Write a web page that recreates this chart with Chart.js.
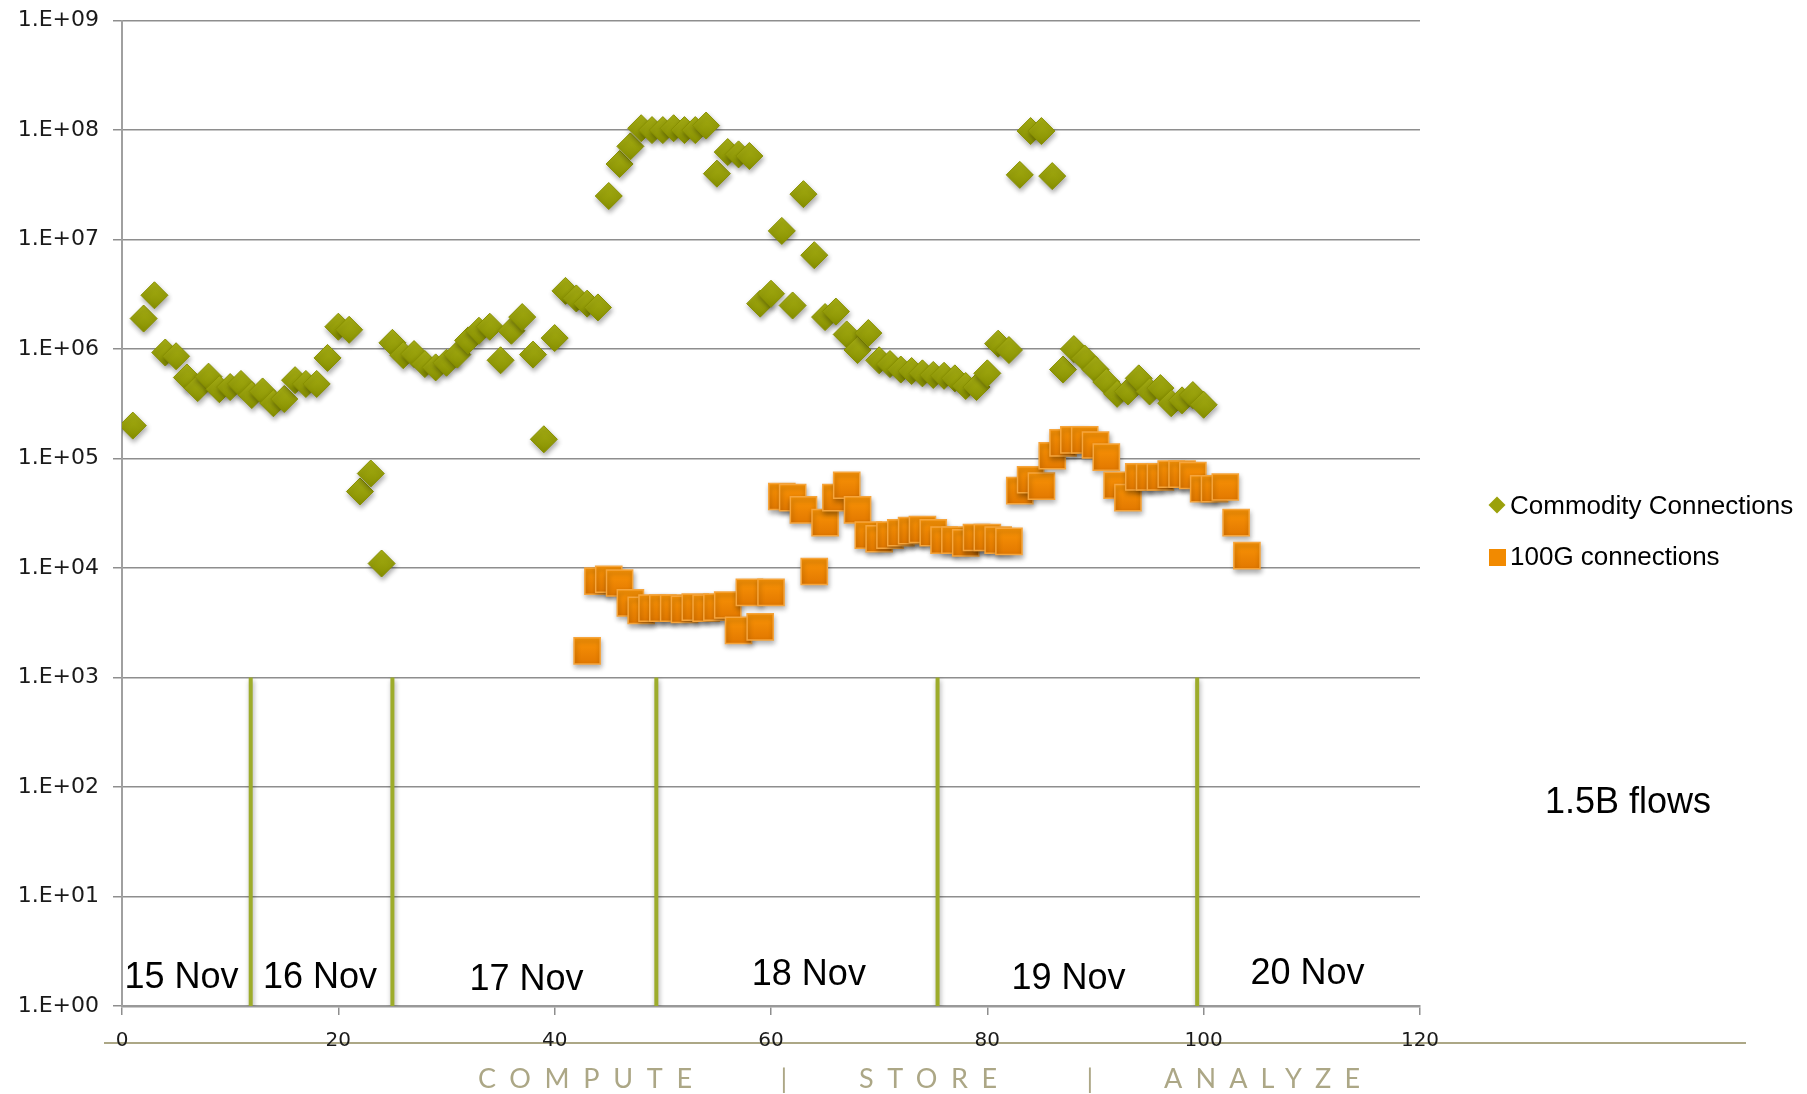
<!DOCTYPE html>
<html>
<head>
<meta charset="utf-8">
<title>Commodity vs 100G connections</title>
<script src="https://cdn.jsdelivr.net/npm/chart.js@4.4.1/dist/chart.umd.min.js"></script>
<style>
  html, body { margin: 0; padding: 0; background: #ffffff; }
  #wrap { width: 1807px; height: 1094px; }
</style>
</head>
<body>
<div id="wrap"><canvas id="flowChart" width="1807" height="1094"></canvas></div>
<script>
/* DATA */
const commodityX = [
    1, 2, 3, 4, 5, 6, 7, 8, 9, 10,
    11, 12, 13, 14, 15, 16, 17, 18, 19, 20,
    21, 22, 23, 24, 25, 26, 27, 28, 29, 30,
    31, 32, 33, 34, 35, 36, 37, 38, 39, 40,
    41, 42, 43, 44, 45, 46, 47, 48, 49, 50,
    51, 52, 53, 54, 55, 56, 57, 58, 59, 60,
    61, 62, 63, 64, 65, 66, 67, 68, 69, 70,
    71, 72, 73, 74, 75, 76, 77, 78, 79, 80,
    81, 82, 83, 84, 85, 86, 87, 88, 89, 90,
    91, 92, 93, 94, 95, 96, 97, 98, 99, 100
];
const commodityValues = [
    2.0e5, 1.9e6, 3.1e6, 9.3e5, 8.6e5, 5.5e5, 4.4e5, 5.6e5, 4.3e5, 4.5e5,
    4.8e5, 3.8e5, 4.1e5, 3.2e5, 3.5e5, 5.2e5, 4.8e5, 4.8e5, 8.3e5, 1.6e6,
    1.5e6, 5.0e4, 7.3e4, 1.1e4, 1.14e6, 8.8e5, 9.0e5, 7.3e5, 6.8e5, 7.5e5,
    8.9e5, 1.2e6, 1.47e6, 1.6e6, 7.9e5, 1.47e6, 1.96e6, 8.9e5, 1.5e5, 1.26e6,
    3.4e6, 2.9e6, 2.6e6, 2.4e6, 2.5e7, 4.9e7, 7.1e7, 1.04e8, 1.0e8, 1.0e8,
    1.04e8, 1.0e8, 1.0e8, 1.1e8, 4.0e7, 6.3e7, 6.0e7, 5.8e7, 2.6e6, 3.2e6,
    1.2e7, 2.5e6, 2.6e7, 7.2e6, 1.96e6, 2.2e6, 1.36e6, 9.8e5, 1.4e6, 7.9e5,
    7.3e5, 6.5e5, 6.3e5, 6.0e5, 5.8e5, 5.7e5, 5.4e5, 4.6e5, 4.5e5, 6.0e5,
    1.12e6, 9.8e5, 3.9e7, 9.8e7, 9.8e7, 3.8e7, 6.5e5, 1.0e6, 8.2e5, 6.5e5,
    5.0e5, 3.9e5, 4.1e5, 5.4e5, 4.1e5, 4.4e5, 3.2e5, 3.4e5, 3.8e5, 3.1e5
];

const hundredGX = [
    43, 44, 45, 46, 47, 48, 49, 50, 51, 52,
    53, 54, 55, 56, 57, 58, 59, 60, 61, 62,
    63, 64, 65, 66, 67, 68, 69, 70, 71, 72,
    73, 74, 75, 76, 77, 78, 79, 80, 81, 82,
    83, 84, 85, 86, 87, 88, 89, 90, 91, 92,
    93, 94, 95, 96, 97, 98, 99, 100, 101, 102,
    103, 104
];
const hundredGValues = [
    1.75e3, 7.6e3, 7.9e3, 7.3e3, 4.8e3, 4.1e3, 4.3e3, 4.3e3, 4.3e3, 4.2e3,
    4.4e3, 4.3e3, 4.4e3, 4.6e3, 2.7e3, 6.0e3, 2.9e3, 6.0e3, 4.5e4, 4.4e4,
    3.4e4, 9.3e3, 2.6e4, 4.4e4, 5.7e4, 3.4e4, 2.0e4, 1.85e4, 2.0e4, 2.1e4,
    2.2e4, 2.25e4, 2.1e4, 1.8e4, 1.8e4, 1.7e4, 1.9e4, 1.9e4, 1.8e4, 1.75e4,
    5.1e4, 6.4e4, 5.6e4, 1.06e5, 1.39e5, 1.48e5, 1.48e5, 1.33e5, 1.03e5, 5.7e4,
    4.4e4, 6.8e4, 6.8e4, 6.8e4, 7.2e4, 7.2e4, 7.0e4, 5.3e4, 5.3e4, 5.5e4,
    2.6e4, 1.3e4
];

const seriesNames = ["Commodity Connections", "100G connections"];

/* day separators and day names (x in sample index, y in connections) */
const dayLineX = [11.9, 25.0, 49.4, 75.4, 99.4];
const dayLineTop = 1000;
const dayLineBottom = 1;
const dayNames = ["15 Nov", "16 Nov", "17 Nov", "18 Nov", "19 Nov", "20 Nov"];
const dayNameX = [5.5, 18.3, 37.4, 63.5, 87.5, 109.6];
const dayNameY = [1.8, 1.8, 1.73, 1.92, 1.77, 1.96];

const noteText = "1.5B flows";

const xTicks = [0, 20, 40, 60, 80, 100, 120];
const yTickValues = [1e0, 1e1, 1e2, 1e3, 1e4, 1e5, 1e6, 1e7, 1e8, 1e9];
const yTickLabels = ["1.E+00", "1.E+01", "1.E+02", "1.E+03", "1.E+04",
                     "1.E+05", "1.E+06", "1.E+07", "1.E+08", "1.E+09"];

const footerWords = ["COMPUTE", "|", "STORE", "|", "ANALYZE"];

/* STYLE */
const OLIVE = "#9ba10b";
const OLIVE_TOP = "#a8b015";
const OLIVE_BOTTOM = "#879000";
const OLIVE_EDGE = "#889000";
const ORANGE = "#f28a00";
const ORANGE_TOP = "#fa9406";
const ORANGE_BOTTOM = "#e27800";
const ORANGE_EDGE = "#f6a53c";
const DAYLINE = "#9dac2b";
const GRID = "#8e8e8e";
const FOOTER = "#aca786";
const FONT = '"Liberation Sans", Arial, Helvetica, sans-serif';
const AXIS_FONT = '"DejaVu Sans", "Liberation Sans", sans-serif';

Chart.defaults.font.family = FONT;
Chart.defaults.color = "#1a1a1a";

function toPoints(xs, ys) {
    return xs.map((x, i) => ({ x: x, y: ys[i] }));
}

/* vertical shading on every marker, like the slide's glossy points */
function markerFill(top, bottom, flat, half) {
    return context => {
        if (!context.raw || !context.chart.scales.y) return flat;
        const c = context.chart;
        const py = c.scales.y.getPixelForValue(context.raw.y);
        if (!isFinite(py)) return flat;
        const g = c.ctx.createLinearGradient(0, py - half, 0, py + half);
        g.addColorStop(0, top);
        g.addColorStop(1, bottom);
        return g;
    };
}

const dayLineSets = dayLineX.map(x => ({
    type: "line",
    data: [{ x: x, y: dayLineTop }, { x: x, y: dayLineBottom }],
    borderColor: DAYLINE,
    borderWidth: 4,
    pointRadius: 0,
    fill: false,
    showLine: true
}));

/* slide decorations: legend, day names, note and footer */
const slideText = {
    id: "slideText",
    beforeDraw(chart) {
        const ctx = chart.ctx;
        ctx.save();
        ctx.fillStyle = "#ffffff";
        ctx.fillRect(0, 0, chart.width, chart.height);
        // footer rule under the tick labels
        ctx.strokeStyle = FOOTER;
        ctx.lineWidth = 2;
        ctx.beginPath();
        ctx.moveTo(104, 1043);
        ctx.lineTo(1746, 1043);
        ctx.stroke();
        // footer words, spread to the slide's letter spacing
        const spans = [[478, 692], [784, 784], [859, 997], [1090, 1090], [1164, 1360]];
        ctx.font = "27px Lato, 'Open Sans', sans-serif";
        ctx.fillStyle = FOOTER;
        ctx.textBaseline = "middle";
        footerWords.forEach((w, i) => {
            const [a, b] = spans[i];
            ctx.letterSpacing = "0px";
            if (w.length === 1) {
                ctx.textAlign = "center";
                ctx.fillText(w, a, 1079);
                return;
            }
            const natural = ctx.measureText(w).width;
            const gap = (b - a - natural) / (w.length - 1);
            ctx.letterSpacing = gap + "px";
            ctx.textAlign = "left";
            ctx.fillText(w, a, 1079);
        });
        ctx.restore();
    },
    beforeDatasetsDraw(chart) {
        const ctx = chart.ctx;
        ctx.save();
        ctx.shadowColor = "rgba(0,0,0,0.33)";
        ctx.shadowBlur = 5;
        ctx.shadowOffsetX = 1;
        ctx.shadowOffsetY = 3;
    },
    afterDatasetsDraw(chart) {
        chart.ctx.restore();
    },
    afterDraw(chart) {
        const ctx = chart.ctx;
        const x = chart.scales.x;
        const y = chart.scales.y;
        ctx.save();
        ctx.fillStyle = "#000000";
        ctx.textAlign = "center";
        ctx.textBaseline = "middle";
        ctx.font = "36px " + FONT;
        dayNames.forEach((t, i) => {
            ctx.fillText(t, x.getPixelForValue(dayNameX[i]), y.getPixelForValue(dayNameY[i]));
        });
        ctx.fillText(noteText, 1628, 803);

        // legend
        ctx.font = "26px " + FONT;
        ctx.textAlign = "left";
        ctx.fillStyle = OLIVE;
        ctx.beginPath();
        ctx.moveTo(1488.5, 505);
        ctx.lineTo(1497, 496.5);
        ctx.lineTo(1505.5, 505);
        ctx.lineTo(1497, 513.5);
        ctx.closePath();
        ctx.fill();
        ctx.fillStyle = ORANGE;
        ctx.fillRect(1489, 549, 17, 17);
        ctx.fillStyle = "#000000";
        ctx.fillText(seriesNames[0], 1510, 507);
        ctx.fillText(seriesNames[1], 1510, 558);
        ctx.restore();
    }
};

const chart = new Chart(document.getElementById("flowChart"), {
    type: "scatter",
    data: {
        datasets: [
            ...dayLineSets,
            {
                label: seriesNames[1],
                data: toPoints(hundredGX, hundredGValues),
                pointStyle: "rect",
                pointRadius: 18.5,
                backgroundColor: markerFill(ORANGE_TOP, ORANGE_BOTTOM, ORANGE, 13),
                borderColor: ORANGE_EDGE,
                borderWidth: 1.5
            },
            {
                label: seriesNames[0],
                data: toPoints(commodityX, commodityValues),
                pointStyle: "rectRot",
                pointRadius: 13.5,
                backgroundColor: markerFill(OLIVE_TOP, OLIVE_BOTTOM, OLIVE, 13.5),
                borderColor: OLIVE_EDGE,
                borderWidth: 1
            }
        ]
    },
    options: {
        responsive: false,
        devicePixelRatio: 1,
        animation: false,
        layout: { padding: { top: 12, right: 387, left: 0, bottom: 0 } },
        plugins: {
            legend: { display: false },
            tooltip: { enabled: false }
        },
        scales: {
            x: {
                type: "linear",
                min: 0,
                max: 120,
                afterBuildTicks: scale => { scale.ticks = xTicks.map(v => ({ value: v })); },
                afterFit: scale => { scale.height = 88; },
                grid: {
                    drawOnChartArea: false,
                    drawTicks: true,
                    tickLength: 9,
                    color: GRID,
                    lineWidth: 1.5
                },
                border: { color: "#999999", width: 2.5 },
                ticks: {
                    font: { size: 20, family: AXIS_FONT },
                    color: "#1a1a1a",
                    padding: 14
                }
            },
            y: {
                type: "logarithmic",
                min: 1,
                max: 1e9,
                afterBuildTicks: scale => { scale.ticks = yTickValues.map(v => ({ value: v })); },
                afterFit: scale => { scale.width = 122; },
                grid: {
                    color: GRID,
                    lineWidth: 1.5,
                    tickLength: 9
                },
                border: { color: "#a0a0a0", width: 2 },
                ticks: {
                    font: { size: 22, family: AXIS_FONT, lineHeight: 0.6 },
                    color: "#1a1a1a",
                    padding: 14,
                    callback: v => yTickLabels[Math.round(Math.log10(v))]
                }
            }
        }
    },
    plugins: [slideText]
});
</script>
</body>
</html>
